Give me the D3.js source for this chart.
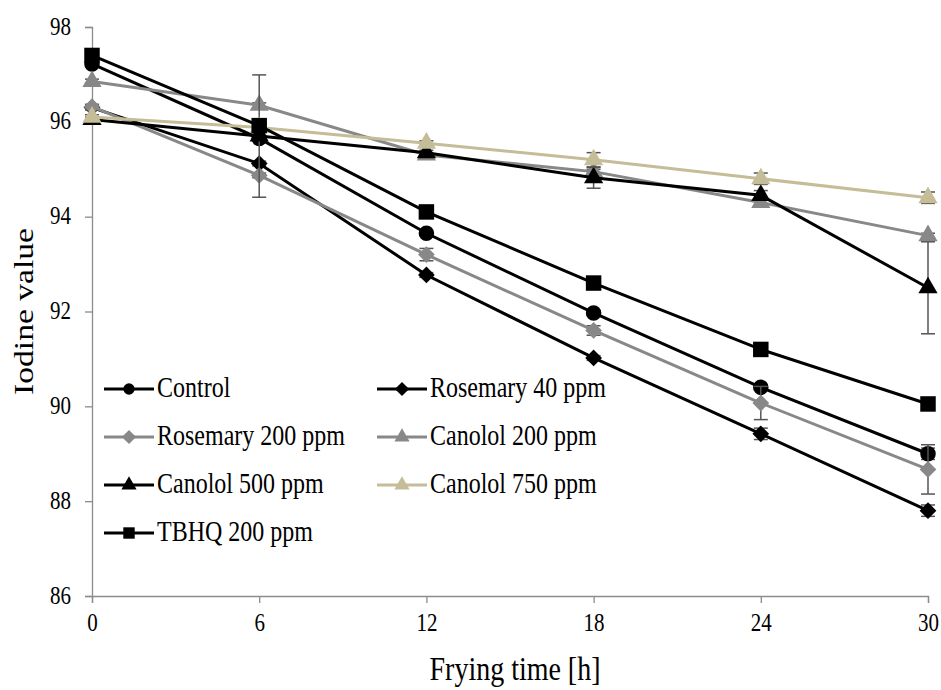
<!DOCTYPE html>
<html>
<head>
<meta charset="utf-8">
<script src="https://cdn.jsdelivr.net/npm/d3@7"></script>
<style>
  body { margin: 0; background: #fff; }
  text { font-family: "Liberation Serif", "Times New Roman", serif; fill: #000; }
</style>
</head>
<body>
<div id="chart"></div>
<script>
// data
var hours = [0, 6, 12, 18, 24, 30];
var control      = [97.22, 95.65, 93.65, 91.97, 90.40, 89.00];
var rosemary40   = [96.30, 95.12, 92.77, 91.02, 89.42, 87.80];
var rosemary200  = [96.32, 94.87, 93.20, 91.60, 90.07, 88.67];
var canolol200   = [96.85, 96.35, 95.30, 94.95, 94.30, 93.60];
var canolol500   = [96.05, 95.70, 95.35, 94.82, 94.45, 92.50];
var canolol750   = [96.10, 95.88, 95.55, 95.20, 94.80, 94.40];
var tbhq         = [97.40, 95.92, 94.10, 92.60, 91.20, 90.05];

// error bars (+/-)
var controlErr     = [0.05, 0.05, 0.05, 0.05, 0.05, 0.12];
var rosemary40Err  = [0.05, 0.05, 0.05, 0.05, 0.12, 0.12];
var rosemary200Err = [0.05, 0.05, 0.13, 0.10, 0.35, 0.52];
var canolol200Err  = [0.05, 0.05, 0.05, 0.05, 0.10, 0.05];
var canolol500Err  = [0.05, 1.29, 0.05, 0.22, 0.10, 0.97];
var canolol750Err  = [0.05, 0.05, 0.05, 0.15, 0.12, 0.12];
var tbhqErr        = [0.05, 0.05, 0.05, 0.05, 0.05, 0.05];

var yTicks = [86, 88, 90, 92, 94, 96, 98];

var series = [
  {name: "Control",          values: control,     err: controlErr,     color: "#000000", shape: "circle"},
  {name: "Rosemary 40 ppm",  values: rosemary40,  err: rosemary40Err,  color: "#000000", shape: "diamond"},
  {name: "Rosemary 200 ppm", values: rosemary200, err: rosemary200Err, color: "#888888", shape: "diamond"},
  {name: "Canolol 200 ppm",  values: canolol200,  err: canolol200Err,  color: "#888888", shape: "triangle"},
  {name: "Canolol 500 ppm",  values: canolol500,  err: canolol500Err,  color: "#000000", shape: "triangle"},
  {name: "Canolol 750 ppm",  values: canolol750,  err: canolol750Err,  color: "#c4bd97", shape: "triangle"},
  {name: "TBHQ 200 ppm",     values: tbhq,        err: tbhqErr,        color: "#000000", shape: "square"}
];

var width = 941, height = 690;
var margin = {top: 27, right: 13, bottom: 94, left: 92};
var w = width - margin.left - margin.right,
    h = height - margin.top - margin.bottom;

var svg = d3.select("#chart").append("svg")
    .attr("width", width)
    .attr("height", height);

var g = svg.append("g")
    .attr("transform", "translate(" + margin.left + "," + margin.top + ")");

var x = d3.scaleLinear().domain([0, 30]).range([0, w]);
var y = d3.scaleLinear().domain([86, 98]).range([h, 0]);

// the original figure is a bit stretched vertically, so text is too
var stretch = 1.2;

// axes
var xAxis = g.append("g")
    .attr("transform", "translate(0," + h + ")")
    .call(d3.axisBottom(x).tickValues(hours).tickSize(7).tickPadding(11));
var yAxis = g.append("g")
    .call(d3.axisLeft(y).tickValues(yTicks).tickSize(7).tickPadding(14));

[xAxis, yAxis].forEach(function(a) {
  a.select(".domain").attr("stroke", "#8c8c8c").attr("stroke-width", 1.3);
  a.selectAll(".tick line").attr("stroke", "#8c8c8c").attr("stroke-width", 1.3);
});
xAxis.selectAll(".tick text")
    .style("font-size", "21px")
    .attr("dy", null)
    .attr("y", 0)
    .attr("transform", "translate(0,35) scale(1," + stretch + ")");
yAxis.selectAll(".tick text")
    .style("font-size", "21px")
    .attr("dy", null)
    .attr("transform", "translate(0,7) scale(1," + stretch + ")");

// axis titles
svg.append("text")
    .attr("transform", "translate(" + (margin.left + w / 2 + 5) + ",680) scale(1," + stretch + ")")
    .attr("text-anchor", "middle")
    .style("font-size", "28px")
    .text("Frying time [h]");

svg.append("text")
    .attr("transform", "translate(33," + (margin.top + h / 2) + ") rotate(-90) scale(" + stretch + ",1)")
    .attr("text-anchor", "middle")
    .style("font-size", "28px")
    .text("Iodine value");

var diamond = {
  draw: function(ctx, size) {
    var r = Math.sqrt(size / 2);
    ctx.moveTo(0, -r); ctx.lineTo(r, 0); ctx.lineTo(0, r); ctx.lineTo(-r, 0); ctx.closePath();
  }
};

function symbolFor(shape) {
  if (shape === "circle") return d3.symbol().type(d3.symbolCircle).size(190);
  if (shape === "square") return d3.symbol().type(d3.symbolSquare).size(240);
  if (shape === "triangle") return d3.symbol().type(d3.symbolTriangle).size(160);
  return d3.symbol().type(diamond).size(140);
}

var line = d3.line()
    .x(function(d, i) { return x(hours[i]); })
    .y(function(d) { return y(d); });

series.forEach(function(s) {
  var sg = g.append("g");

  // error bars
  var eb = sg.selectAll(".err").data(s.values).enter().append("g");
  eb.append("line")
      .attr("x1", function(d, i) { return x(hours[i]); })
      .attr("x2", function(d, i) { return x(hours[i]); })
      .attr("y1", function(d, i) { return y(d + s.err[i]); })
      .attr("y2", function(d, i) { return y(d - s.err[i]); })
      .attr("stroke", "#555").attr("stroke-width", 1.5);
  [1, -1].forEach(function(sign) {
    eb.append("line")
        .attr("x1", function(d, i) { return x(hours[i]) - 7; })
        .attr("x2", function(d, i) { return x(hours[i]) + 7; })
        .attr("y1", function(d, i) { return y(d + sign * s.err[i]); })
        .attr("y2", function(d, i) { return y(d + sign * s.err[i]); })
        .attr("stroke", "#555").attr("stroke-width", 1.5);
  });

  sg.append("path")
      .datum(s.values)
      .attr("fill", "none")
      .attr("stroke", s.color)
      .attr("stroke-width", 3)
      .attr("d", line);

  sg.selectAll(".pt").data(s.values).enter().append("path")
      .attr("transform", function(d, i) { return "translate(" + x(hours[i]) + "," + y(d) + ")"; })
      .attr("d", symbolFor(s.shape))
      .attr("fill", s.color);
});

// legend (two columns inside the plot)
var legCols = [104, 377], legRows = [389, 437, 485, 533];
series.forEach(function(s, i) {
  var lx = legCols[i % 2], ly = legRows[Math.floor(i / 2)];
  var lg = svg.append("g").attr("transform", "translate(" + lx + "," + ly + ")");
  lg.append("line")
      .attr("x1", 0).attr("x2", 50)
      .attr("stroke", s.color).attr("stroke-width", 3);
  lg.append("path")
      .attr("transform", "translate(25,0)")
      .attr("d", symbolFor(s.shape).size(s.shape === "square" ? 130 : 100))
      .attr("fill", s.color);
  lg.append("text")
      .attr("transform", "translate(53,8) scale(1," + stretch + ")")
      .style("font-size", "24px")
      .text(s.name);
});
</script>
</body>
</html>
